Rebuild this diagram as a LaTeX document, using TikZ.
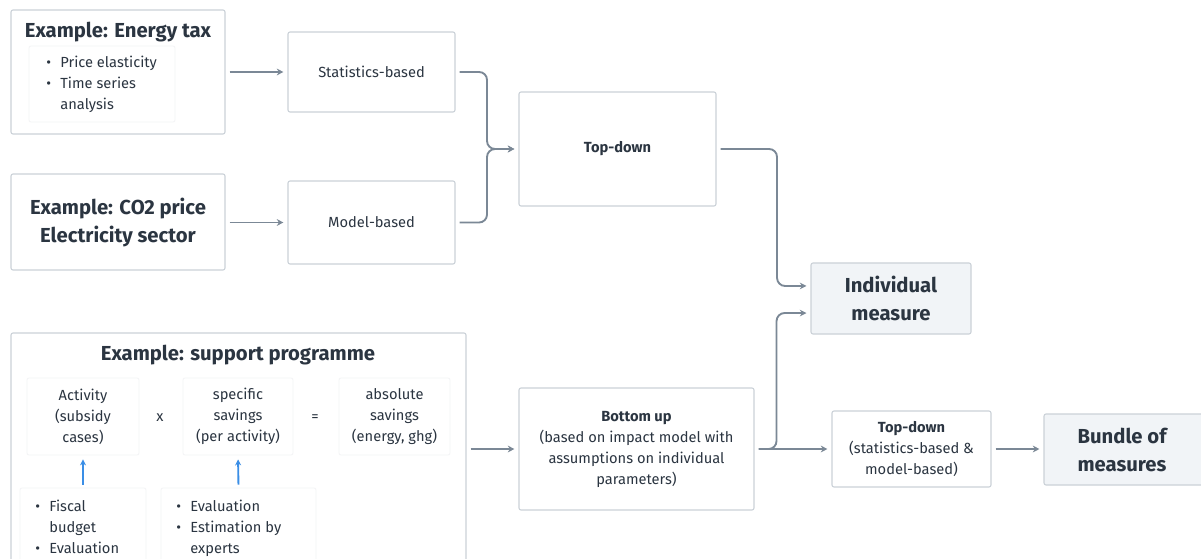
\documentclass[tikz,border=0pt]{standalone}
\usepackage{fontspec}
\setmainfont{Fira Sans}
\usepackage{xcolor}
\usetikzlibrary{calc, arrows.meta}
\definecolor{BoxLine}{HTML}{CBD1D8}
\definecolor{BoxFill}{HTML}{F1F4F7}
\definecolor{Faint}{HTML}{F3F4F6}
\definecolor{Ink}{HTML}{2B3541}
\definecolor{Wire}{HTML}{7B8896}
\definecolor{Blue}{HTML}{3A8EE6}
\tikzset{>=Stealth}
\tikzset{
  box/.style={draw=BoxLine, line width=0.8pt, rounded corners=1.5pt, inner sep=0pt},
  faintbox/.style={draw=Faint, line width=0.6pt, rounded corners=1.5pt, inner sep=0pt},
  result/.style={box, fill=BoxFill},
  txt/.style={text=Ink, font=\fontsize{11}{15.75}\selectfont, align=center, inner sep=0pt},
  big/.style={text=Ink, font=\fontsize{15.2}{21}\selectfont\bfseries, align=center, inner sep=0pt},
  arr/.style={->, draw=Wire, line width=1.4pt, shorten <=3pt, shorten >=3pt,
    arrows={-Stealth[length=5pt, width=5pt]}},
  bluearr/.style={draw=Blue, line width=1.4pt, shorten <=2.25pt, shorten >=3pt,
    arrows={-Stealth[length=4.5pt, width=4.5pt]}}
}
\newcommand{\bul}{\textbullet}
\begin{document}
\begin{tikzpicture}[x=0.75pt, y=-0.75pt]
  \clip (0,0) rectangle (1201,559);
  \fill[white] (0,0) rectangle (1201,559);

  % left column: examples
  \node[box, minimum width=160.5pt, minimum height=93pt] (energy) at (118,72) {};
  \node[big] (energytitle) at (118,32) {Example: Energy tax};
  \node[faintbox, minimum width=109.5pt, minimum height=57pt] (energyinner) at (102,84) {};
  \node[txt, anchor=base west] (energylist) at (46,68)
    {\begin{tabular}[t]{@{}l@{\hspace{7pt}}l@{}}\bul & Price elasticity\\ \bul & Time series\\ & analysis\end{tabular}};

  \node[box, minimum width=160.5pt, minimum height=72pt] (co2) at (118,222)
    {}; 
  \node[big] (co2text) at (118,223) {Example: CO2 price\\Electricity sector};

  % support programme
  \node[box, minimum width=341.25pt, minimum height=177.75pt] (support) at (238.5,451.5) {};
  \node[big] (supporttitle) at (238,355) {Example: support programme};
  \node[faintbox, minimum width=84pt, minimum height=57.75pt] (activity) at (83,416.5) {};
  \node[txt] at (activity) {Activity\\(subsidy\\cases)};
  \node[txt] (times) at (160,418) {x};
  \node[faintbox, minimum width=82.5pt, minimum height=57.75pt] (specific) at (238,416.5) {};
  \node[txt] at (specific) {specific\\savings\\(per activity)};
  \node[txt] (equals) at (315,418) {=};
  \node[faintbox, minimum width=83.25pt, minimum height=57.75pt] (absolute) at (394.5,416.5) {};
  \node[txt] at (absolute) {absolute\\savings\\(energy, ghg)};

  \node[faintbox, minimum width=94.5pt, minimum height=69pt] (actlist) at (83,534) {};
  \node[txt, anchor=base west] at (35,511)
    {\begin{tabular}[t]{@{}l@{\hspace{7pt}}l@{}}\bul & Fiscal\\ & budget\\ \bul & Evaluation\end{tabular}};
  \node[faintbox, minimum width=116.25pt, minimum height=69pt] (speclist) at (238.5,534) {};
  \node[txt, anchor=base west] at (176,511)
    {\begin{tabular}[t]{@{}l@{\hspace{7pt}}l@{}}\bul & Evaluation\\ \bul & Estimation by\\ & experts\end{tabular}};

  \draw[bluearr] (actlist.north) -- (activity.south);
  \draw[bluearr] (speclist.north) -- (specific.south);

  % methods
  \node[box, txt, minimum width=125.25pt, minimum height=60pt] (stat) at (371.5,72) {Statistics-based};
  \node[box, txt, minimum width=125.25pt, minimum height=62.25pt] (model) at (371.5,222.5) {Model-based};
  \node[box, txt, minimum width=147.75pt, minimum height=85.5pt] (topdown) at (617.5,149) {\bfseries Top-down};
  \node[box, txt, minimum width=176.25pt, minimum height=91.5pt] (bottomup) at (636.5,449)
    {\bfseries Bottom up\\(based on impact model with\\assumptions on individual\\parameters)};
  \node[box, txt, minimum width=119.25pt, minimum height=57pt] (topdown2) at (911.5,449)
    {\bfseries Top-down\\(statistics-based \&\\model-based)};

  % results
  \node[result, big, minimum width=120pt, minimum height=53.25pt] (indiv) at (891,298.5) {Individual\\measure};
  \node[result, minimum width=120pt, minimum height=53.25pt] (bundle) at (1124,449.5) {};
  \node[big] (bundletext) at (1122,450) {Bundle of\\measures};

  % connectors
  \draw[arr] (energy.east |- stat.west) -- (stat.west);
  \draw[arr] (co2.east |- model.west) -- (model.west);
  \draw[arr, rounded corners=6pt] (stat.east) -- ++(31.5,0) |- (topdown.west);
  \draw[arr, rounded corners=6pt] (model.east) -- ++(31.5,0) |- (topdown.west);
  \draw[arr, rounded corners=6pt] (topdown.east) -- ++(60.5,0) |- ([yshift=9.4pt]indiv.west);
  \draw[arr] (support.east |- bottomup.west) -- (bottomup.west);
  \draw[arr, rounded corners=6pt] (bottomup.east) -- ++(22,0) |- ([yshift=-10.9pt]indiv.west);
  \draw[arr] (bottomup.east) -- (topdown2.west);
  \draw[arr] (topdown2.east) -- (topdown2.east -| bundle.west);
\end{tikzpicture}
\end{document}
